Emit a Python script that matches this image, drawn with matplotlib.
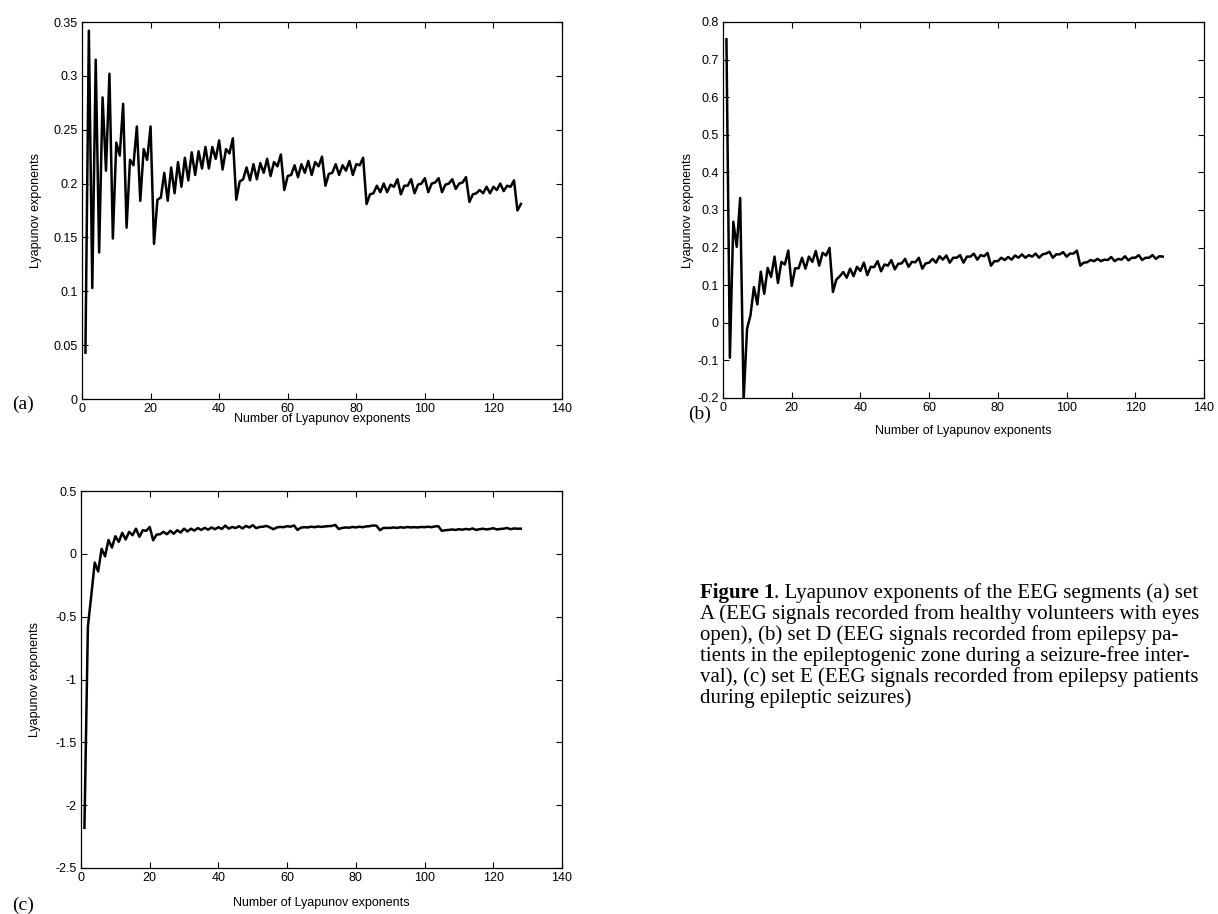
import matplotlib
matplotlib.use("Agg")
import matplotlib.pyplot as plt
from matplotlib.ticker import FuncFormatter

# Lyapunov exponents, index 1..128
set_a = [0.043, 0.342, 0.103, 0.315, 0.136, 0.280, 0.212, 0.302, 0.149, 0.238,
         0.226, 0.274, 0.159, 0.222, 0.217, 0.253, 0.184, 0.232, 0.222, 0.253,
         0.144, 0.185, 0.187, 0.210, 0.184, 0.215, 0.191, 0.220, 0.197, 0.224,
         0.203, 0.229, 0.208, 0.230, 0.214, 0.234, 0.214, 0.234, 0.223, 0.240,
         0.213, 0.232, 0.228, 0.242, 0.185, 0.202, 0.204, 0.215, 0.203, 0.218,
         0.204, 0.219, 0.210, 0.223, 0.207, 0.220, 0.216, 0.227, 0.194, 0.207,
         0.208, 0.217, 0.206, 0.218, 0.210, 0.221, 0.208, 0.220, 0.216, 0.225,
         0.198, 0.209, 0.210, 0.218, 0.208, 0.217, 0.212, 0.221, 0.208, 0.218,
         0.217, 0.224, 0.181, 0.190, 0.191, 0.198, 0.192, 0.200, 0.192, 0.199,
         0.197, 0.204, 0.190, 0.198, 0.198, 0.204, 0.191, 0.199, 0.200, 0.205,
         0.192, 0.200, 0.201, 0.205, 0.192, 0.199, 0.200, 0.204, 0.195, 0.200,
         0.201, 0.206, 0.183, 0.190, 0.191, 0.194, 0.191, 0.197, 0.191, 0.197,
         0.194, 0.200, 0.193, 0.198, 0.197, 0.203, 0.175, 0.181]

set_d = [0.754, -0.093, 0.269, 0.202, 0.332, -0.205, -0.016, 0.020, 0.095, 0.049,
         0.136, 0.077, 0.146, 0.122, 0.176, 0.106, 0.162, 0.155, 0.192, 0.098,
         0.145, 0.145, 0.173, 0.144, 0.176, 0.162, 0.191, 0.152, 0.186, 0.179,
         0.199, 0.082, 0.115, 0.124, 0.135, 0.120, 0.144, 0.124, 0.149, 0.138,
         0.160, 0.127, 0.149, 0.148, 0.164, 0.137, 0.155, 0.152, 0.167, 0.142,
         0.157, 0.158, 0.170, 0.149, 0.162, 0.161, 0.173, 0.144, 0.158, 0.160,
         0.170, 0.160, 0.177, 0.168, 0.179, 0.160, 0.173, 0.173, 0.180, 0.160,
         0.176, 0.176, 0.184, 0.168, 0.180, 0.177, 0.186, 0.152, 0.164, 0.164,
         0.173, 0.167, 0.175, 0.168, 0.179, 0.173, 0.182, 0.173, 0.180, 0.176,
         0.184, 0.173, 0.182, 0.184, 0.189, 0.173, 0.182, 0.182, 0.188, 0.176,
         0.184, 0.184, 0.192, 0.152, 0.160, 0.161, 0.167, 0.164, 0.170, 0.164,
         0.168, 0.167, 0.175, 0.164, 0.170, 0.168, 0.177, 0.166, 0.173, 0.173,
         0.180, 0.167, 0.173, 0.173, 0.180, 0.170, 0.177, 0.176]

set_e = [-2.18, -0.58, -0.33, -0.07, -0.14, 0.04, -0.02, 0.11, 0.05, 0.14,
         0.095, 0.167, 0.114, 0.175, 0.148, 0.200, 0.135, 0.188, 0.183, 0.214,
         0.108, 0.153, 0.156, 0.175, 0.156, 0.183, 0.160, 0.188, 0.170, 0.200,
         0.178, 0.200, 0.185, 0.205, 0.190, 0.207, 0.192, 0.210, 0.196, 0.212,
         0.198, 0.225, 0.200, 0.214, 0.205, 0.220, 0.202, 0.222, 0.210, 0.228,
         0.204, 0.214, 0.216, 0.222, 0.210, 0.196, 0.210, 0.214, 0.212, 0.220,
         0.216, 0.226, 0.190, 0.208, 0.212, 0.210, 0.216, 0.212, 0.218, 0.214,
         0.218, 0.220, 0.222, 0.230, 0.198, 0.206, 0.210, 0.208, 0.214, 0.210,
         0.216, 0.212, 0.218, 0.220, 0.226, 0.224, 0.188, 0.206, 0.206, 0.206,
         0.210, 0.206, 0.212, 0.208, 0.214, 0.210, 0.212, 0.210, 0.214, 0.212,
         0.216, 0.212, 0.218, 0.220, 0.183, 0.188, 0.190, 0.194, 0.190, 0.196,
         0.192, 0.198, 0.194, 0.202, 0.190, 0.196, 0.200, 0.194, 0.198, 0.204,
         0.194, 0.198, 0.200, 0.206, 0.196, 0.202, 0.200, 0.200]

x_ticks = [0, 20, 40, 60, 80, 100, 120, 140]
yticks_a = [0, 0.05, 0.1, 0.15, 0.2, 0.25, 0.3, 0.35]
yticks_d = [-0.2, -0.1, 0, 0.1, 0.2, 0.3, 0.4, 0.5, 0.6, 0.7, 0.8]
yticks_e = [-2.5, -2, -1.5, -1, -0.5, 0, 0.5]

caption_lines = [
    "A (EEG signals recorded from healthy volunteers with eyes",
    "open), (b) set D (EEG signals recorded from epilepsy pa-",
    "tients in the epileptogenic zone during a seizure-free inter-",
    "val), (c) set E (EEG signals recorded from epilepsy patients",
    "during epileptic seizures)",
]

plt.rcParams['font.family'] = 'Liberation Sans'

W, H = 1218, 914
fig = plt.figure(figsize=(W / 100, H / 100), dpi=100)


def make_panel(rect, values, yticks, xlab_y, ylab_x):
    left, top, right, bottom = rect
    ax = fig.add_axes([left / W, 1 - bottom / H, (right - left) / W, (bottom - top) / H])
    xs = list(range(1, len(values) + 1))
    ax.plot(xs, values, color='black', lw=1.8)
    ax.set_xlim(0, 140)
    ax.set_ylim(yticks[0], yticks[-1])
    ax.set_xticks(x_ticks)
    ax.set_yticks(yticks)
    ax.yaxis.set_major_formatter(FuncFormatter(lambda v, p: f"{round(v, 3):g}"))
    ax.tick_params(direction='in', length=4, width=0.8, labelsize=9,
                   top=True, right=True, pad=3)
    for s in ax.spines.values():
        s.set_linewidth(0.9)
    ax.set_xlabel('Number of Lyapunov exponents', fontsize=9)
    ax.set_ylabel('Lyapunov exponents', fontsize=9)
    ax.xaxis.set_label_coords(0.5, -(xlab_y - bottom) / (bottom - top))
    ax.yaxis.set_label_coords(-(left - ylab_x) / (right - left), 0.5)
    return ax


make_panel((82, 22, 562, 399), set_a, yticks_a, 413, 42)
make_panel((723, 22, 1204, 398), set_d, yticks_d, 425, 694)
make_panel((81, 491, 562, 868), set_e, yticks_e, 897, 41)

serif = 'Liberation Serif'
fig.text(12 / W, 1 - 404 / H, '(a)', family=serif, fontsize=14, va='center')
fig.text(688 / W, 1 - 414 / H, '(b)', family=serif, fontsize=14, va='center')
fig.text(12 / W, 1 - 905 / H, '(c)', family=serif, fontsize=14, va='center')

# caption, first line has a bold lead-in
cap_size = 15
x0 = 700
y0 = 593
step = 21
bold = fig.text(x0 / W, 1 - y0 / H, 'Figure 1', family=serif, fontsize=cap_size,
                weight='bold', va='center')
fig.canvas.draw()
bb = bold.get_window_extent(fig.canvas.get_renderer())
fig.text(bb.x1 / W, 1 - y0 / H, '. Lyapunov exponents of the EEG segments (a) set',
         family=serif, fontsize=cap_size, va='center')
for i, line in enumerate(caption_lines):
    fig.text(x0 / W, 1 - (y0 + step * (i + 1)) / H, line, family=serif,
             fontsize=cap_size, va='center')

fig.savefig('out.png', dpi=100)
